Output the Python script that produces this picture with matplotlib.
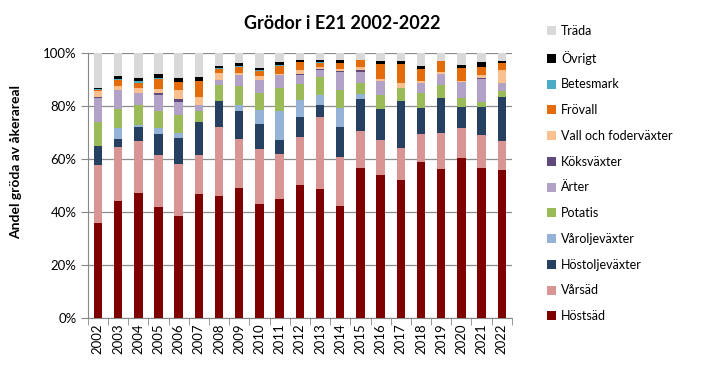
import matplotlib
matplotlib.use('Agg')
import matplotlib.pyplot as plt
import numpy as np

plt.rcParams['font.family'] = ['Lato', 'DejaVu Sans']

years = [str(y) for y in range(2002, 2023)]

# andel av åkerareal (%)
hostsad = [35.9, 44.2, 47.2, 41.9, 38.5, 46.9, 46.2, 49.1, 43.1, 45.0, 50.0,
           48.7, 42.4, 56.7, 54.0, 52.1, 58.9, 56.3, 60.5, 56.7, 55.9]
varsad = [21.9, 20.2, 19.7, 19.7, 19.7, 14.7, 26.0, 18.5, 20.8, 17.0, 18.4,
          27.2, 18.4, 14.0, 13.3, 12.1, 10.6, 13.6, 11.3, 12.4, 11.0]
hostolje = [7.2, 3.2, 5.3, 7.9, 9.8, 12.5, 9.8, 10.6, 9.4, 5.3, 7.5,
            4.5, 11.4, 12.0, 11.7, 17.8, 9.8, 13.2, 8.0, 10.6, 16.6]
varolje = [0.0, 4.2, 0.7, 2.2, 1.9, 0.0, 0.0, 2.2, 5.4, 10.9, 6.5,
           3.7, 7.1, 1.8, 0.0, 0.0, 0.0, 0.0, 0.0, 0.0, 0.0]
potatis = [9.1, 7.2, 7.6, 6.5, 6.9, 4.2, 6.0, 7.3, 6.1, 8.8, 6.0,
           6.8, 6.6, 4.4, 5.1, 5.0, 5.8, 4.7, 3.3, 1.7, 2.3]
arter = [9.0, 7.1, 4.6, 6.1, 4.9, 2.2, 1.7, 4.1, 4.9, 4.6, 3.3,
         2.8, 6.8, 4.0, 5.4, 0.0, 3.6, 4.5, 6.1, 9.0, 3.1]
koksvaxter = [0.2, 0.0, 0.0, 0.5, 0.8, 0.0, 0.0, 0.0, 0.0, 0.0, 0.5,
              0.5, 0.5, 0.7, 0.0, 0.0, 0.0, 0.0, 0.0, 0.3, 0.0]
vall = [2.4, 1.6, 1.8, 1.7, 3.6, 3.1, 2.7, 0.8, 1.5, 0.4, 1.6,
        0.4, 0.8, 1.2, 0.7, 1.7, 0.8, 0.5, 0.3, 1.1, 4.8]
frovall = [0.4, 2.0, 2.0, 3.7, 3.1, 5.7, 1.6, 2.0, 2.1, 3.3, 2.7,
           1.6, 2.2, 2.7, 5.8, 7.3, 4.7, 4.4, 5.0, 2.9, 2.6]
betesmark = [0.2, 0.5, 0.7, 0.6, 0.0, 0.3, 0.4, 0.4, 0.4, 0.3, 0.2,
             0.4, 0.0, 0.0, 0.0, 0.0, 0.0, 0.0, 0.0, 0.0, 0.0]
ovrigt = [0.6, 1.0, 1.0, 1.3, 1.6, 1.5, 0.8, 1.1, 0.8, 1.1, 0.8,
          0.9, 1.3, 0.0, 1.2, 1.2, 1.0, 0.0, 1.2, 1.8, 0.8]

series = [
    ('Höstsäd', hostsad, '#7F0000'),
    ('Vårsäd', varsad, '#D99594'),
    ('Höstoljeväxter', hostolje, '#254061'),
    ('Våroljeväxter', varolje, '#95B3D7'),
    ('Potatis', potatis, '#9BBB59'),
    ('Ärter', arter, '#B3A2C7'),
    ('Köksväxter', koksvaxter, '#604A7B'),
    ('Vall och foderväxter', vall, '#FAC090'),
    ('Frövall', frovall, '#E46C0A'),
    ('Betesmark', betesmark, '#4BACC6'),
    ('Övrigt', ovrigt, '#000000'),
]

# träda = resten upp till 100 %
total = np.sum([np.array(s[1]) for s in series], axis=0)
trada = list(100 - total)
series.append(('Träda', trada, '#D9D9D9'))

fig = plt.figure(figsize=(7.08, 3.77), dpi=100)
ax = fig.add_axes([0.124, 0.157, 0.599, 0.702])

x = np.arange(len(years))
bottom = np.zeros(len(years))
handles = []
for name, vals, col in series:
    v = np.array(vals) / 100
    b = ax.bar(x, v, 0.42, bottom=bottom, color=col, label=name, zorder=3)
    handles.append(b)
    bottom += v

ax.set_xlim(-0.5, len(years) - 0.5)
ax.set_ylim(0, 1)
ax.set_yticks(np.arange(0, 1.01, 0.2))
ax.set_yticklabels([f'{int(round(t*100))}%' for t in np.arange(0, 1.01, 0.2)], fontsize=9.5)
ax.set_xticks(x)
ax.set_xticklabels(years, rotation=90, fontsize=9.5)
ax.tick_params(axis='x', length=0, pad=4)
ax.set_xticks(np.arange(-0.5, len(years), 1), minor=True)
ax.tick_params(axis='x', which='minor', length=5, color='#888888')
ax.tick_params(axis='y', length=5, color='#888888', pad=3)
ax.grid(axis='y', color='#8C8C8C', lw=0.9, zorder=0)
for s in ['top', 'right']:
    ax.spines[s].set_visible(False)
for s in ['left', 'bottom']:
    ax.spines[s].set_color('#888888')

ax.set_ylabel('Andel gröda av åkerareal', fontsize=10, fontweight='bold')
ax.yaxis.set_label_coords(-0.155, 0.59)
fig.text(0.483, 0.937, 'Grödor i E21 2002-2022', ha='center', va='center',
         fontsize=13, fontweight='bold')

leg = fig.legend(handles[::-1], [s[0] for s in series][::-1],
                 loc='upper left', bbox_to_anchor=(0.765, 0.947),
                 frameon=False, fontsize=9, handlelength=0.75, handleheight=0.75,
                 handletextpad=0.4, labelspacing=1.1, borderaxespad=0)

plt.savefig('out.png', dpi=100, facecolor='white')
